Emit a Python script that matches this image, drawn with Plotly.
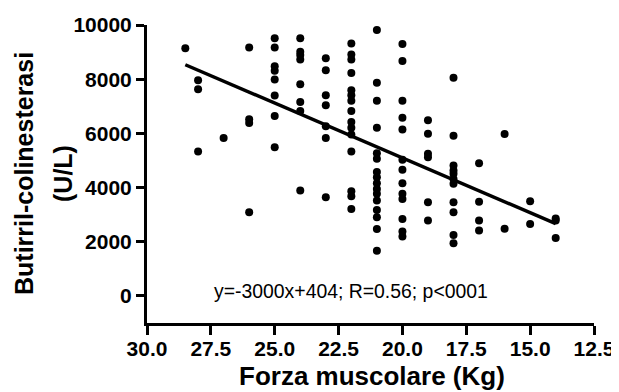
import plotly.graph_objects as go

# Data (Forza muscolare in Kg, Butirril-colinesterasi in U/L)
forza = ([28.5] + [28]*3 + [27] + [26]*4 + [25]*8 + [24]*8 + [23]*7 + [22]*15 +
         [21]*16 + [20]*13 + [19]*6 + [18]*11 + [17]*4 + [16]*2 + [15]*2 + [14]*3)
bche = [9140,
        7960, 7630, 5330,
        5830,
        9170, 6520, 6380, 3090,
        9510, 9170, 8480, 8310, 7990, 7400, 6640, 5490,
        9510, 9010, 8890, 8730, 7810, 7160, 6830, 3890,
        8770, 8330, 7410, 7040, 6260, 5830, 3640,
        9320, 8910, 8730, 8230, 7590, 7410, 7200, 6830, 6420, 6210, 5960, 5330, 3860, 3680, 3210,
        9820, 7870, 7200, 6210, 5270, 5060, 4570, 4380, 4160, 3950, 3770, 3520, 3170, 2900, 2470, 1670,
        9300, 8670, 7200, 6580, 6140, 5030, 4660, 4160, 3770, 3580, 2840, 2380, 2190,
        6480, 5990, 5250, 5120, 3460, 2780,
        8050, 5910, 4810, 4630, 4510, 4320, 4140, 3460, 3090, 2250, 1940,
        4900, 3480, 2780, 2410,
        5980, 2480,
        3490, 2650,
        2860, 2780, 2140]

reg_slope = 404.6
reg_intercept = -2998
x_ticks = [30.0, 27.5, 25.0, 22.5, 20.0, 17.5, 15.0, 12.5]
y_ticks = [0, 2000, 4000, 6000, 8000, 10000]
eq_label = "y=-3000x+404; R=0.56; p<0001"

line_x = [max(forza), min(forza)]
line_y = [reg_slope * v + reg_intercept for v in line_x]

fig = go.Figure()
fig.add_trace(go.Scatter(x=forza, y=bche, mode="markers",
                         marker=dict(color="black", size=8), showlegend=False, cliponaxis=False))
fig.add_trace(go.Scatter(x=line_x, y=line_y, mode="lines",
                         line=dict(color="black", width=3.5), showlegend=False))

FONT = "Liberation Sans, Arial, sans-serif"
tickfont = dict(family=FONT, size=21, color="black")
# the page body adds an 8px offset; margins compensate so the plot lands where the reference has it
fig.update_layout(
    width=619, height=392,
    margin=dict(l=139, r=33, t=17, b=77),
    paper_bgcolor="white", plot_bgcolor="white",
    font=dict(family=FONT, color="black"),
    xaxis=dict(range=[30, 12.5], tickvals=x_ticks,
               ticktext=[f"<b>{v:.1f}</b>" for v in x_ticks],
               showgrid=False, zeroline=False, showline=True, linecolor="black", linewidth=3,
               ticks="outside", ticklen=9, tickwidth=3, tickcolor="black",
               tickfont=tickfont, automargin=False, ticklabelstandoff=-4),
    yaxis=dict(range=[-1000, 10000], tickvals=y_ticks,
               ticktext=[f"<b>{v}</b>" for v in y_ticks],
               showgrid=False, zeroline=False, showline=True, linecolor="black", linewidth=3,
               ticks="outside", ticklen=8, tickwidth=3, tickcolor="black",
               tickfont=tickfont, automargin=False),
    annotations=[
        dict(text="<b>Butirril-colinesterasi</b>", xref="paper", yref="paper",
             x=(24 - 147) / 447, y=0.5, textangle=-90, showarrow=False,
             xanchor="center", yanchor="middle", font=dict(size=25)),
        dict(text="<b>(U/L)</b>", xref="paper", yref="paper",
             x=(63 - 147) / 447, y=0.5, textangle=-90, showarrow=False,
             xanchor="center", yanchor="middle", font=dict(size=25)),
        dict(text="<b>Forza muscolare (Kg)</b>", xref="paper", yref="paper",
             x=(372 - 147) / 447, y=-(376 - 323) / 298, showarrow=False,
             xanchor="center", yanchor="middle", font=dict(size=26)),
        dict(text=eq_label, x=22, y=180, xref="x", yref="y", showarrow=False,
             xanchor="center", yanchor="middle", font=dict(size=19.4)),
    ],
)
fig.write_html("out.html")
